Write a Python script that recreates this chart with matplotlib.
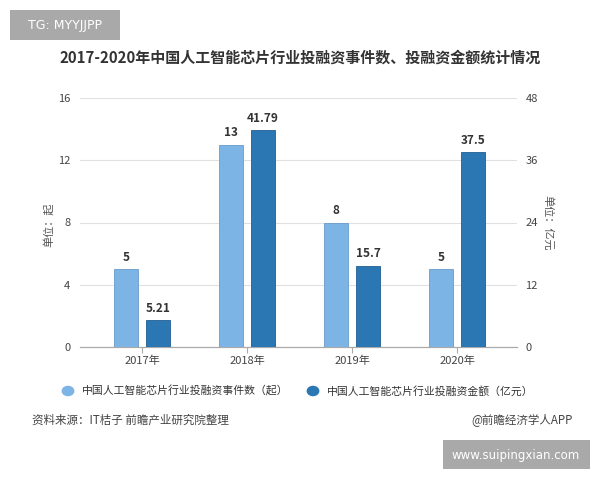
import matplotlib.pyplot as plt
import numpy as np

plt.rcParams['font.family'] = ['Noto Sans CJK SC', 'DejaVu Sans']

# Data
years = ["2017年", "2018年", "2019年", "2020年"]
event_counts = [5, 13, 8, 5]            # 起
fund_amounts = [5.21, 41.79, 15.7, 37.5]  # 亿元
count_labels = ["5", "13", "8", "5"]
amount_labels = ["5.21", "41.79", "15.7", "37.5"]

light = '#7db4e6'
dark = '#2a77b4'

fig = plt.figure(figsize=(6, 4.8), dpi=100)
ax1 = fig.add_axes([80/600, 1-347/480, 437/600, 249/480])
ax2 = ax1.twinx()

x = np.arange(len(years))
w = 0.229
off = 0.152

ax1.bar(x - off, event_counts, width=w, color=light, edgecolor='#6a9ccb', linewidth=0.6, zorder=3)
ax2.bar(x + off, fund_amounts, width=w, color=dark, edgecolor='#1f5f93', linewidth=0.6, zorder=3)

for xi, v, s in zip(x, event_counts, count_labels):
    ax1.text(xi - off, v + 0.35, s, ha='center', va='bottom', fontsize=8.5,
             fontweight='bold', color='#333333', zorder=4)
for xi, v, s in zip(x, fund_amounts, amount_labels):
    ax2.text(xi + off, v + 1.05, s, ha='center', va='bottom', fontsize=8.5,
             fontweight='bold', color='#333333', zorder=4)

ax1.set_xlim(-0.59, 3.57)
ax1.set_ylim(0, 16)
ax2.set_ylim(0, 48)
ax1.set_yticks([0, 4, 8, 12, 16])
ax2.set_yticks([0, 12, 24, 36, 48])
ax1.set_xticks(x)
ax1.set_xticklabels(years)

ax1.grid(axis='y', color='#e0e0e0', linewidth=0.8, zorder=0)
ax1.set_axisbelow(True)

for ax in (ax1, ax2):
    for side in ('top', 'left', 'right'):
        ax.spines[side].set_visible(False)
    ax.spines['bottom'].set_color('#aaaaaa')
    ax.tick_params(axis='y', length=0, labelsize=8, colors='#444444')
ax1.tick_params(axis='y', pad=7)
ax2.tick_params(axis='y', pad=6)
ax1.tick_params(axis='x', length=4, color='#aaaaaa', labelsize=8, labelcolor='#444444', pad=2)

fig.text(49/600, 1-225/480, "单位：起", rotation=90, ha='center', va='center',
         fontsize=8, color='#555555')
fig.text(548/600, 1-223/480, "单位：亿元", rotation=-90, ha='center', va='center',
         fontsize=8, color='#555555')

# Title
fig.text(0.5, 1-58/480, "2017-2020年中国人工智能芯片行业投融资事件数、投融资金额统计情况",
         ha='center', va='center', fontsize=10.8, fontweight='bold', color='#333333')

# Tag box top left
fig.patches.append(plt.Rectangle((10/600, 1-40/480), 110/600, 30/480,
                                 transform=fig.transFigure, facecolor='#a9a9a9',
                                 edgecolor='none', figure=fig))
fig.text(65/600, 1-25/480, "TG: MYYJJPP", ha='center', va='center', fontsize=9,
         color='white', family=['DejaVu Sans'])

# Legend
fig.patches.append(plt.Circle((68/600, 1-391/480), 0.0095, transform=fig.transFigure,
                              color=light, figure=fig))
fig.text(82/600, 1-391/480, "中国人工智能芯片行业投融资事件数（起）", ha='left', va='center',
         fontsize=7.8, color='#333333')
fig.patches.append(plt.Circle((313/600, 1-391/480), 0.0095, transform=fig.transFigure,
                              color=dark, figure=fig))
fig.text(327/600, 1-391/480, "中国人工智能芯片行业投融资金额（亿元）", ha='left', va='center',
         fontsize=7.8, color='#333333')

# Footer
fig.text(32/600, 1-420/480, "资料来源：IT桔子 前瞻产业研究院整理", ha='left', va='center',
         fontsize=8.3, color='#444444')
fig.text(573/600, 1-420/480, "@前瞻经济学人APP", ha='right', va='center',
         fontsize=8.3, color='#444444')

# Site box bottom right
fig.patches.append(plt.Rectangle((443/600, 1-469/480), 147/600, 29/480,
                                 transform=fig.transFigure, facecolor='#a9a9a9',
                                 edgecolor='none', figure=fig))
fig.text(516/600, 1-455/480, "www.suipingxian.com", ha='center', va='center', fontsize=8.5,
         color='white', family=['DejaVu Sans'])

fig.savefig("out.png", dpi=100)
